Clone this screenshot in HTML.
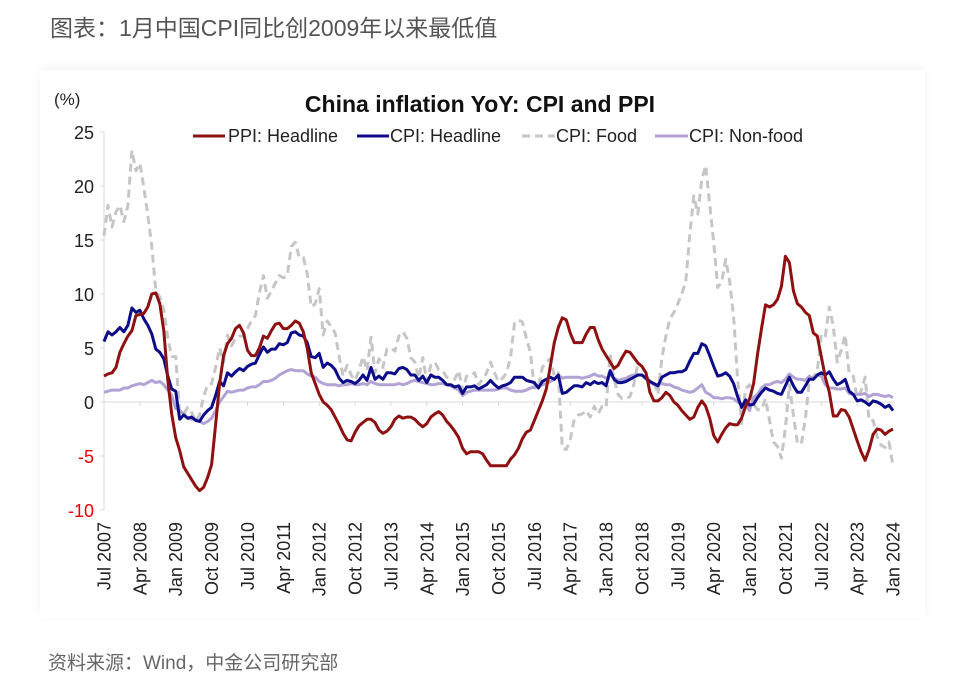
<!DOCTYPE html>
<html><head><meta charset="utf-8"><style>
body{margin:0;width:963px;height:676px;background:#fff;overflow:hidden;font-family:"Liberation Sans","Noto Sans CJK SC",sans-serif;}
.h{position:absolute;left:50px;top:9px;font-size:23px;color:#555;}
.s{position:absolute;left:48px;top:648px;font-size:19px;color:#666;}
.card{position:absolute;left:40px;top:70px;width:885px;height:548px;box-shadow:0 -2px 10px rgba(0,0,0,0.05);}
svg{position:absolute;left:0;top:0;}
</style></head><body>
<div class="h">图表：1月中国CPI同比创2009年以来最低值</div>
<div class="card"></div>
<svg id="c" width="963" height="676" font-family="Liberation Sans, sans-serif"></svg>
<div class="s">资料来源：Wind，中金公司研究部</div>
<script>
const ppi=[2.4,2.6,2.7,3.2,4.6,5.4,6.1,6.6,8.0,8.1,8.2,8.8,10.0,10.1,9.1,6.6,2.0,-1.1,-3.3,-4.5,-6.0,-6.6,-7.2,-7.8,-8.2,-7.9,-7.0,-5.8,-2.1,1.7,4.3,5.4,5.9,6.8,7.1,6.4,4.8,4.3,4.3,5.0,6.1,5.9,6.6,7.2,7.3,6.8,6.8,7.1,7.5,7.3,6.5,5.0,2.7,1.7,0.7,0.0,-0.3,-0.7,-1.4,-2.1,-2.9,-3.5,-3.6,-2.8,-2.2,-1.9,-1.6,-1.6,-1.9,-2.6,-2.9,-2.7,-2.3,-1.6,-1.3,-1.5,-1.4,-1.4,-1.6,-2.0,-2.3,-2.0,-1.4,-1.1,-0.9,-1.2,-1.8,-2.2,-2.7,-3.3,-4.3,-4.8,-4.6,-4.6,-4.6,-4.8,-5.4,-5.9,-5.9,-5.9,-5.9,-5.9,-5.3,-4.9,-4.3,-3.4,-2.8,-2.6,-1.7,-0.8,0.1,1.2,3.3,5.5,6.9,7.8,7.6,6.4,5.5,5.5,5.5,6.3,6.9,6.9,5.8,4.9,4.3,3.7,3.1,3.4,4.1,4.7,4.6,4.1,3.6,3.3,2.7,0.9,0.1,0.1,0.4,0.9,0.6,0.0,-0.3,-0.8,-1.2,-1.6,-1.4,-0.5,0.1,-0.4,-1.5,-3.1,-3.7,-3.0,-2.4,-2.0,-2.1,-2.1,-1.5,-0.4,0.3,1.7,4.4,6.8,9.0,8.8,9.0,9.5,10.7,13.5,12.9,10.3,9.1,8.8,8.3,8.0,6.4,6.1,4.2,2.3,0.9,-1.3,-1.3,-0.7,-0.8,-1.4,-2.5,-3.6,-4.6,-5.4,-4.4,-3.0,-2.5,-2.6,-3.0,-2.7,-2.5];
const cpi=[5.6,6.5,6.2,6.5,6.9,6.5,7.1,8.7,8.3,8.5,7.7,7.1,6.3,4.9,4.6,4.0,2.4,1.2,1.0,-1.6,-1.2,-1.5,-1.4,-1.7,-1.8,-1.2,-0.8,-0.5,0.6,1.9,1.5,2.7,2.4,2.8,3.1,2.9,3.3,3.5,3.6,4.4,5.1,4.6,4.9,4.9,5.4,5.3,5.5,6.4,6.5,6.2,6.1,5.5,4.2,4.1,4.5,3.2,3.6,3.4,3.0,2.2,1.8,2.0,1.9,1.7,2.0,2.5,2.0,3.2,2.1,2.4,2.1,2.7,2.7,2.6,3.1,3.2,3.0,2.5,2.5,2.0,2.4,1.8,2.5,2.3,2.3,2.0,1.6,1.6,1.4,1.5,0.8,1.4,1.4,1.5,1.2,1.4,1.6,2.0,1.6,1.3,1.5,1.6,1.8,2.3,2.3,2.3,2.0,1.9,1.8,1.3,1.9,2.1,2.3,2.1,2.5,0.8,0.9,1.2,1.5,1.5,1.4,1.8,1.6,1.9,1.7,1.8,1.5,2.9,2.1,1.8,1.8,1.9,2.1,2.3,2.5,2.5,2.2,1.9,1.7,1.5,2.3,2.5,2.7,2.7,2.8,2.8,3.0,3.8,4.5,4.5,5.4,5.2,4.3,3.3,2.4,2.5,2.7,2.4,1.7,0.5,-0.5,0.2,-0.3,-0.2,0.4,0.9,1.3,1.1,1.0,0.8,0.7,1.5,2.3,1.5,0.9,0.9,1.5,2.1,2.1,2.5,2.7,2.5,2.8,2.1,1.6,1.8,2.1,1.0,0.7,0.1,0.2,0.0,-0.3,0.1,0.0,-0.2,-0.5,-0.3,-0.8];
const food=[15.4,18.2,16.2,17.6,18.2,16.7,18.2,23.3,21.4,22.1,19.9,17.3,14.4,10.3,9.7,8.5,5.9,4.2,4.2,-1.0,-1.1,-0.5,-1.0,-1.8,-1.2,0.5,1.6,1.7,3.2,5.0,3.7,6.2,5.2,5.9,6.1,6.1,6.8,7.5,8.0,10.1,11.7,9.6,10.3,11.0,11.7,11.5,11.7,14.4,14.8,13.4,13.4,11.9,8.8,9.1,10.5,6.2,7.5,7.0,6.4,4.2,2.4,3.4,2.5,2.0,2.9,4.2,2.9,6.0,2.7,4.0,3.2,4.9,5.0,4.7,6.1,6.5,5.9,4.1,3.7,2.2,4.1,1.9,3.4,3.7,3.0,2.9,2.3,2.2,2.1,2.9,1.1,2.4,2.4,2.7,1.6,2.1,2.7,3.7,2.7,1.9,2.2,2.7,4.1,7.3,7.6,7.4,5.9,4.6,1.3,1.3,3.2,3.7,4.0,2.4,2.7,-4.3,-4.4,-3.5,-1.6,-1.2,-1.1,-0.8,-1.4,-0.4,-1.1,-0.4,-0.5,4.4,2.1,0.7,0.3,0.3,0.5,1.7,3.6,3.3,2.5,1.9,1.9,0.7,4.1,6.1,7.7,8.3,9.1,10.0,11.2,15.5,19.1,17.4,20.6,21.9,18.3,14.8,10.6,11.1,13.2,11.2,7.9,2.2,-2.0,1.2,1.6,-0.2,-0.7,-0.7,0.3,-1.7,-3.7,-4.1,-5.2,-2.4,1.6,-1.2,-3.8,-3.9,-1.5,1.9,2.3,2.9,6.3,6.1,8.8,7.0,3.7,4.8,6.2,2.6,2.4,0.4,1.0,2.3,-1.7,-1.7,-3.2,-4.0,-4.2,-3.7,-5.9];
const nf=[0.9,1.0,1.1,1.1,1.1,1.3,1.3,1.5,1.6,1.7,1.6,1.8,2.0,1.8,1.9,1.6,1.1,0.6,-0.6,-0.8,-1.1,-1.5,-1.6,-1.6,-1.8,-2.0,-1.8,-1.5,-0.8,0.0,0.5,1.0,0.9,1.0,1.1,1.1,1.3,1.4,1.4,1.6,1.9,1.9,2.0,2.2,2.5,2.7,2.9,3.0,2.9,2.9,2.9,2.6,2.4,2.3,1.9,1.7,1.6,1.6,1.6,1.5,1.6,1.6,1.7,1.6,1.6,1.7,1.6,1.9,1.7,1.6,1.6,1.6,1.6,1.6,1.7,1.6,1.7,1.9,2.0,1.9,1.8,1.7,1.6,1.6,1.7,1.7,1.6,1.5,1.3,1.1,0.6,0.9,1.0,1.1,1.1,1.1,1.1,1.1,1.1,1.2,1.3,1.3,1.1,1.0,1.0,1.0,1.1,1.3,1.4,1.4,1.6,1.7,1.9,2.1,2.5,2.2,2.3,2.3,2.3,2.3,2.2,2.3,2.4,2.6,2.4,2.4,2.2,2.5,2.2,2.0,2.1,2.2,2.4,2.5,2.5,2.5,2.1,1.8,1.6,1.6,1.7,1.6,1.6,1.4,1.3,1.1,1.0,0.9,1.0,1.3,1.6,0.9,0.7,0.4,0.4,0.3,0.4,0.4,0.3,0.0,-0.2,-0.2,-0.8,0.4,0.7,1.3,1.6,1.6,1.8,1.9,1.8,2.1,2.6,2.3,2.1,2.1,2.0,2.4,2.1,2.5,2.4,1.6,1.3,1.3,1.2,1.2,1.3,0.8,0.7,0.7,0.7,0.8,0.5,0.7,0.7,0.6,0.5,0.6,0.4];
const X=m=>104+m*3.985, Y=v=>402-v*10.8;
let h='';
h+=`<text x="480" y="112" text-anchor="middle" font-size="23" font-weight="bold" fill="#111">China inflation YoY: CPI and PPI</text>`;
h+=`<text x="54" y="105" font-size="17" fill="#222">(%)</text>`;
h+=`<line x1="104" y1="132" x2="104" y2="510" stroke="#d9d9d9" stroke-width="1"/>`;
h+=`<line x1="104" y1="402" x2="895" y2="402" stroke="#d9d9d9" stroke-width="1"/>`;
for(let v=25;v>=-10;v-=5){h+=`<line x1="100" y1="${Y(v)}" x2="104" y2="${Y(v)}" stroke="#d9d9d9"/><text x="94" y="${Y(v)+7}" text-anchor="end" font-size="18" fill="${v<0?'#e00':'#222'}">${v}</text>`;}
for(let k=0;k<=22;k++){const m=k*9;const x=X(m);h+=`<line x1="${x}" y1="402" x2="${x}" y2="406" stroke="#d9d9d9"/>`;
 const tot=6+m;const yr=2007+Math.floor(tot/12);const lab=['Jan','Feb','Mar','Apr','May','Jun','Jul','Aug','Sep','Oct','Nov','Dec'][tot%12]+' '+yr;
 h+=`<text transform="translate(${x+6.5},522) rotate(-90)" text-anchor="end" font-size="18" fill="#222">${lab}</text>`;}
const pl=(d,c,w,extra='')=>`<polyline fill="none" stroke="${c}" stroke-width="${w}" stroke-linejoin="round" ${extra} points="${d.map((v,i)=>X(i).toFixed(1)+','+Y(v).toFixed(1)).join(' ')}"/>`;
h+=pl(food,'#c6c6c6',3,'stroke-dasharray="8,5"');
h+=pl(nf,'#b3a2d4',3);
h+=pl(cpi,'#0c0c8a',3);
h+=pl(ppi,'#8e1010',3);
h+=`<line x1="193" y1="136" x2="225" y2="136" stroke="#8e1010" stroke-width="3"/><text x="228" y="142" font-size="18" fill="#222">PPI: Headline</text>`;
h+=`<line x1="357" y1="136" x2="389" y2="136" stroke="#0c0c8a" stroke-width="3"/><text x="390" y="142" font-size="18" fill="#222">CPI: Headline</text>`;
h+=`<line x1="522" y1="136" x2="555" y2="136" stroke="#c6c6c6" stroke-width="3" stroke-dasharray="8,5"/><text x="556" y="142" font-size="18" fill="#222">CPI: Food</text>`;
h+=`<line x1="655" y1="136" x2="688" y2="136" stroke="#b3a2d4" stroke-width="3"/><text x="689" y="142" font-size="18" fill="#222">CPI: Non-food</text>`;
document.getElementById('c').innerHTML=h;
</script>
</body></html>
